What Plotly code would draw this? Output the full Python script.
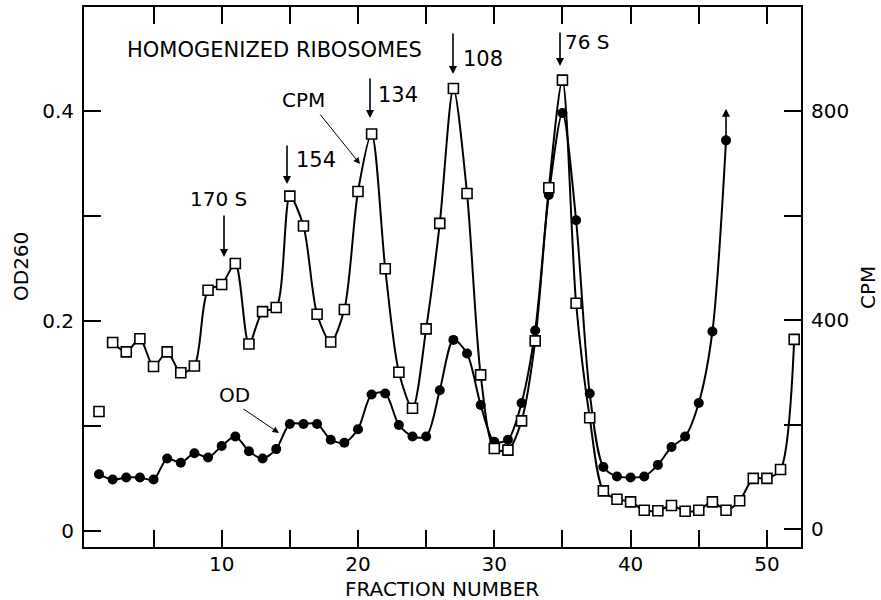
import plotly.graph_objects as go

# ---------------- data ----------------
fractions_cpm = list(range(2, 53))
cpm = [357, 339, 364, 311, 339, 299, 312, 457, 468, 508,
       354, 416, 424, 637, 580, 411, 358, 420, 646, 756,
       498, 300, 231, 383, 585, 843, 642, 295, 154, 151,
       207, 360, 653, 859, 432, 213, 73, 57, 52, 36,
       35, 45, 34, 36, 52, 36, 54, 97, 97, 114, 363]
fraction_cpm_single = [1]
cpm_single = [225]

fractions_od = list(range(1, 48))
od = [0.054, 0.049, 0.051, 0.051, 0.049, 0.069, 0.065, 0.074, 0.070, 0.081,
      0.090, 0.076, 0.069, 0.078, 0.102, 0.102, 0.102, 0.087, 0.084, 0.097,
      0.130, 0.131, 0.101, 0.090, 0.090, 0.134, 0.182, 0.169, 0.120, 0.085,
      0.087, 0.122, 0.191, 0.320, 0.398, 0.296, 0.131, 0.061, 0.052, 0.051,
      0.052, 0.063, 0.080, 0.090, 0.122, 0.190, 0.372]

x_ticks = [10, 20, 30, 40, 50]
x_minor = [5, 15, 25, 35, 45]
od_ticks = [0, 0.2, 0.4]
od_ticktext = ["0", "0.2", "0.4"]
od_minor = [0.1, 0.3]
cpm_ticks = [0, 400, 800]
cpm_minor = [200, 600]

peak_labels = ["170 S", "154", "134", "108", "76 S"]

# ---------------- layout helpers ----------------
W, H = 881, 600
L, R, T, B = 84, 801, 7, 547
FONT = "DejaVu Sans"


def px(xp):
    return (xp - L) / (R - L)


def py(yp):
    return (B - yp) / (B - T)


fig = go.Figure()

fig.add_trace(go.Scatter(
    x=fractions_od, y=od, mode="lines+markers",
    line=dict(color="black", width=2, shape="spline", smoothing=0.8),
    marker=dict(symbol="circle", size=10, color="black"),
    yaxis="y", showlegend=False, cliponaxis=False))

fig.add_trace(go.Scatter(
    x=fractions_cpm, y=cpm, mode="lines+markers",
    line=dict(color="black", width=2, shape="spline", smoothing=0.8),
    marker=dict(symbol="square", size=10, color="white",
                line=dict(color="black", width=1.6)),
    yaxis="y2", showlegend=False, cliponaxis=False))

fig.add_trace(go.Scatter(
    x=fraction_cpm_single, y=cpm_single, mode="markers",
    marker=dict(symbol="square", size=10, color="white",
                line=dict(color="black", width=1.6)),
    yaxis="y2", showlegend=False, cliponaxis=False))

axis_common = dict(showline=True, linecolor="black", linewidth=2,
                   ticks="inside", ticklen=17, tickwidth=1.5, tickcolor="black",
                   showgrid=False, zeroline=False, automargin=False,
                   tickfont=dict(family=FONT, size=20, color="black"))

fig.update_layout(
    width=W, height=H,
    margin=dict(l=L, r=W - R, t=T, b=H - B),
    paper_bgcolor="white", plot_bgcolor="white",
    font=dict(family=FONT, size=20, color="black"),
    xaxis=dict(range=[-0.1, 52.5], tickvals=x_ticks, mirror="ticks",
               minor=dict(tickvals=x_minor, ticks="inside", ticklen=17,
                          tickwidth=1.5, tickcolor="black"),
               ticklabelstandoff=-2,
               **axis_common),
    yaxis=dict(range=[-0.0152, 0.499], tickvals=od_ticks, ticktext=od_ticktext,
               minor=dict(tickvals=od_minor, ticks="inside", ticklen=17,
                          tickwidth=1.5, tickcolor="black"),
               ticklabelstandoff=4,
               **axis_common),
    yaxis2=dict(range=[-34.4, 999], tickvals=cpm_ticks, overlaying="y", side="right",
                minor=dict(tickvals=cpm_minor, ticks="inside", ticklen=17,
                           tickwidth=1.5, tickcolor="black"),
                ticklabelstandoff=4,
                **axis_common),
)

anns = []


def text(xp, yp, s, size=20, angle=0):
    anns.append(dict(x=px(xp), y=py(yp), xref="paper", yref="paper", text=s,
                     showarrow=False, textangle=angle,
                     font=dict(family=FONT, size=size, color="black"),
                     xanchor="center", yanchor="middle"))


def arrow(x0, y0, x1, y1, width=1.6, head=2, size=1.0):
    # arrow from (x0,y0) pixel to tip (x1,y1) pixel
    anns.append(dict(x=px(x1), y=py(y1), xref="paper", yref="paper",
                     ax=x0 - x1, ay=y0 - y1, axref="pixel", ayref="pixel",
                     text="", showarrow=True, arrowhead=head, arrowsize=size,
                     arrowwidth=width, arrowcolor="black"))


# axis titles
text(442, 589, "FRACTION NUMBER", size=20)
text(21, 267, "OD260", size=20, angle=-90)
text(868, 288, "CPM", size=20, angle=-90)

# header
text(274, 50, "HOMOGENIZED RIBOSOMES", size=21)

# peak labels with arrows
text(218, 199, peak_labels[0], size=20)
arrow(224, 214, 224, 257)
text(316, 160, peak_labels[1], size=21)
arrow(287, 144, 287, 184)
text(398, 95, peak_labels[2], size=21)
arrow(370, 77, 370, 118)
text(483, 59, peak_labels[3], size=21)
arrow(453, 32, 453, 74)
text(587, 42, peak_labels[4], size=20)
arrow(560, 31, 560, 66)

# series labels
text(303, 100, "CPM", size=20)
arrow(319, 113, 360, 164, width=1.0, head=2, size=1.3)
text(234, 395, "OD", size=20)
arrow(242, 408, 279, 433, width=1.0, head=2, size=1.3)

# OD off-scale arrow at last point
anns.append(dict(x=47, y=0.402, xref="x", yref="y", ax=47, ay=od[-1],
                 axref="x", ayref="y", text="", showarrow=True, arrowhead=2,
                 arrowsize=1.0, arrowwidth=1.6, arrowcolor="black"))

fig.update_layout(annotations=anns)

fig.write_html("out.html",
               config={"displayModeBar": False},
               post_script="document.body.style.margin='0';"
                           "document.body.style.padding='0';"
                           "document.documentElement.style.overflow='hidden';")
